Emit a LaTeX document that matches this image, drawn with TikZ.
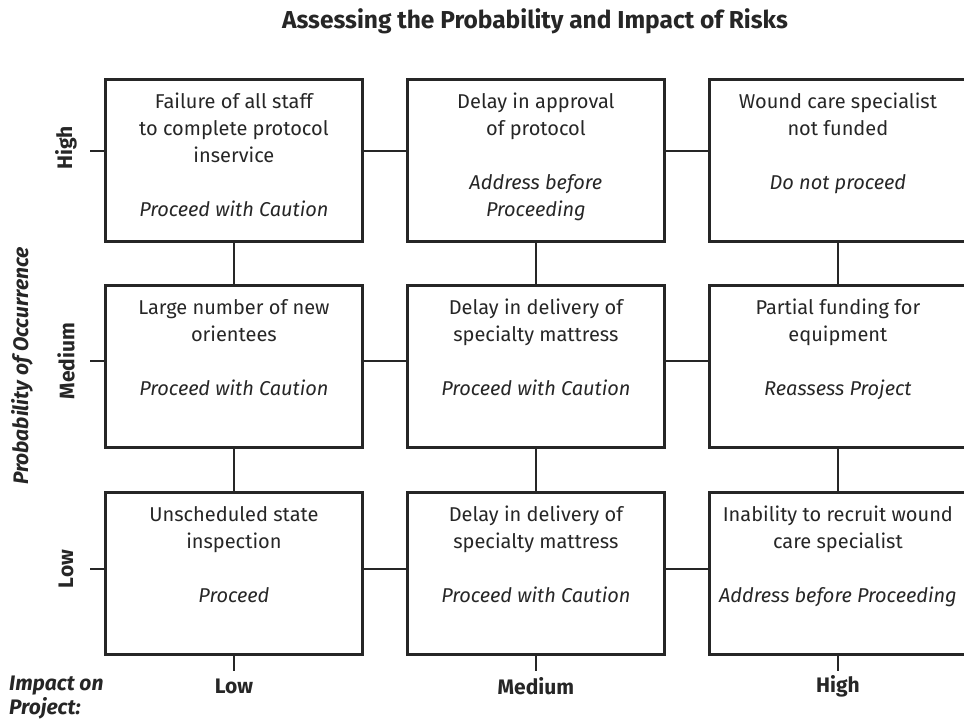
\documentclass[tikz,border=0pt]{standalone}
\usepackage{fontspec}
\setmainfont{Fira Sans}
\definecolor{ink}{HTML}{262626}
\begin{document}
\begin{tikzpicture}[x=1pt,y=-1pt,
  cell/.style={draw=ink, line width=2.8pt, minimum width=257pt, minimum height=162pt,
    inner sep=0pt, anchor=north west},
  celltext/.style={anchor=north, align=center, inner sep=0pt, text=ink,
    font=\fontsize{20}{27}\selectfont},
  link/.style={draw=ink, line width=2pt},
  axislabel/.style={font=\fontsize{21}{24}\selectfont\bfseries, text=ink, inner sep=0pt},
]
\useasboundingbox (0,0) rectangle (964,724);

% title
\node[font=\fontsize{24.5}{28}\selectfont\bfseries, text=ink] (title) at (535,21)
  {Assessing the Probability and Impact of Risks};

% row levels of the connectors
\coordinate (r1) at (0,151);
\coordinate (r2) at (0,361);
\coordinate (r3) at (0,569);

% grid of risk cells
\node[cell] (b11) at (104,78)  {};
\node[cell] (b12) at (406,78)  {};
\node[cell] (b13) at (708,78)  {};
\node[cell] (b21) at (104,284) {};
\node[cell] (b22) at (406,284) {};
\node[cell] (b23) at (708,284) {};
\node[cell] (b31) at (104,491) {};
\node[cell] (b32) at (406,491) {};
\node[cell] (b33) at (708,491) {};

% cell texts
\node[celltext] (t11) at ([yshift=-15pt]b11.north)
  {Failure of all staff\\to complete protocol\\inservice\\[27pt]\textit{Proceed with Caution}};
\node[celltext] (t12) at ([yshift=-15pt]b12.north)
  {Delay in approval\\of protocol\\[27pt]\textit{Address before}\\\textit{Proceeding}};
\node[celltext] (t13) at ([yshift=-15pt]b13.north)
  {Wound care specialist\\not funded\\[27pt]\textit{Do not proceed}};
\node[celltext] (t21) at ([yshift=-15pt]b21.north)
  {Large number of new\\orientees\\[27pt]\textit{Proceed with Caution}};
\node[celltext] (t22) at ([yshift=-15pt]b22.north)
  {Delay in delivery of\\specialty mattress\\[27pt]\textit{Proceed with Caution}};
\node[celltext] (t23) at ([yshift=-15pt]b23.north)
  {Partial funding for\\equipment\\[27pt]\textit{Reassess Project}};
\node[celltext] (t31) at ([yshift=-15pt]b31.north)
  {Unscheduled state\\inspection\\[27pt]\textit{Proceed}};
\node[celltext] (t32) at ([yshift=-15pt]b32.north)
  {Delay in delivery of\\specialty mattress\\[27pt]\textit{Proceed with Caution}};
\node[celltext] (t33) at ([yshift=-15pt]b33.north)
  {Inability to recruit wound\\care specialist\\[27pt]\textit{Address before Proceeding}};

% horizontal links
\draw[link] (b11.east |- r1) -- (b12.west |- r1);
\draw[link] (b12.east |- r1) -- (b13.west |- r1);
\draw[link] (b21.east |- r2) -- (b22.west |- r2);
\draw[link] (b22.east |- r2) -- (b23.west |- r2);
\draw[link] (b31.east |- r3) -- (b32.west |- r3);
\draw[link] (b32.east |- r3) -- (b33.west |- r3);

% vertical links
\draw[link] (b11.south) -- (b21.north);
\draw[link] (b21.south) -- (b31.north);
\draw[link] (b12.south) -- (b22.north);
\draw[link] (b22.south) -- (b32.north);
\draw[link] (b13.south) -- (b23.north);
\draw[link] (b23.south) -- (b33.north);

% axis ticks
\coordinate (k1) at (b11.west |- r1);
\coordinate (k2) at (b21.west |- r2);
\coordinate (k3) at (b31.west |- r3);
\draw[link] (k1) -- ++(-14,0) coordinate (e1);
\draw[link] (k2) -- ++(-14,0) coordinate (e2);
\draw[link] (k3) -- ++(-14,0) coordinate (e3);
\draw[link] (b31.south) -- ++(0,15) coordinate (f1);
\draw[link] (b32.south) -- ++(0,15) coordinate (f2);
\draw[link] (b33.south) -- ++(0,15) coordinate (f3);

% vertical axis
\node[axislabel, rotate=90] (yhigh) at (66,148) {High};
\node[axislabel, rotate=90] (ymed)  at (66,361) {Medium};
\node[axislabel, rotate=90] (ylow)  at (66,569) {Low};
\node[axislabel, rotate=90, font=\fontsize{21}{24}\selectfont\bfseries\itshape] (ytitle)
  at (22,366) {Probability of Occurrence};

% horizontal axis
\node[axislabel] (xlow)  at (f1 |- 0,686) {Low};
\node[axislabel] (xmed)  at (f2 |- 0,686) {Medium};
\node[axislabel] (xhigh) at (f3 |- 0,686) {High};
\node[axislabel, anchor=west, align=left, font=\fontsize{21}{24}\selectfont\bfseries\itshape]
  (xtitle) at (9,698) {Impact on\\Project:};
\end{tikzpicture}
\end{document}
